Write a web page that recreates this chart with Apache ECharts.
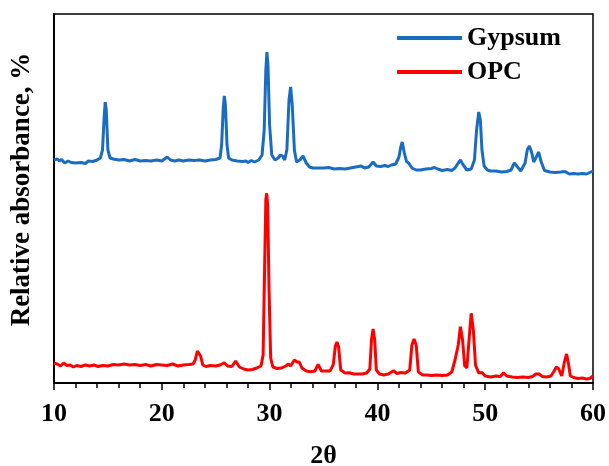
<!DOCTYPE html>
<html>
<head>
<meta charset="utf-8">
<title>XRD patterns: Gypsum and OPC</title>
<script src="https://cdn.jsdelivr.net/npm/echarts@6/dist/echarts.min.js"></script>
<style>
  html, body { margin: 0; padding: 0; background: #ffffff; }
  #chart { width: 609px; height: 466px; }
</style>
</head>
<body>
<div id="chart"></div>
<script>
// Diffraction angle range and tick spacing (degrees 2θ)
const thetaMin = 10;
const thetaMax = 60;
const thetaStep = 10;

// Relative intensity scale (arbitrary units, patterns offset vertically)
const intensityMax = 369;

// Series names
const seriesNames = ['Gypsum', 'OPC'];

// Gypsum pattern: [2θ, relative intensity]
const gypsumPattern = [
  [10.0, 223], [10.3, 224], [10.5, 222], [10.7, 223.5], [11.0, 220], [11.3, 222],
  [11.6, 220.5], [12.0, 220], [12.5, 220.5], [12.9, 219.5], [13.2, 222], [13.6, 221.5],
  [14.0, 223], [14.3, 225], [14.5, 233], [14.65, 265], [14.75, 281], [14.85, 273],
  [15.0, 233], [15.2, 225], [15.5, 224], [16.0, 223], [16.5, 223.5], [17.0, 222],
  [17.5, 223.5], [18.0, 222], [18.5, 222.5], [19.0, 222], [19.5, 223], [20.0, 222],
  [20.5, 226], [20.8, 223], [21.2, 222], [21.6, 223], [22.0, 222], [22.5, 223],
  [23.0, 222.5], [23.5, 223], [24.0, 222], [24.5, 223], [25.0, 223.5], [25.4, 225],
  [25.55, 238], [25.7, 275], [25.8, 287], [25.9, 278], [26.05, 238], [26.2, 225],
  [26.5, 223], [27.0, 222], [27.5, 221.5], [27.8, 222], [28.0, 220.5], [28.3, 222.5],
  [28.6, 221], [29.0, 223], [29.3, 228], [29.5, 253], [29.65, 313], [29.75, 331],
  [29.85, 318], [30.0, 258], [30.2, 228], [30.5, 223], [30.8, 225], [31.0, 228],
  [31.2, 227], [31.4, 223], [31.6, 233], [31.8, 283], [31.95, 296], [32.1, 278],
  [32.3, 233], [32.5, 221], [32.8, 223], [33.1, 227], [33.4, 220], [33.7, 216],
  [34.0, 215], [35.0, 215], [35.5, 215.5], [36.0, 214], [36.5, 214.5], [37.0, 214],
  [37.5, 215], [38.0, 216], [38.5, 217], [38.8, 215], [39.2, 216], [39.6, 221],
  [39.9, 217], [40.3, 216.5], [40.7, 217.5], [41.0, 216.5], [41.3, 218], [41.7, 219],
  [42.0, 226], [42.15, 235], [42.3, 241], [42.5, 230], [42.7, 221.5], [42.9, 220],
  [43.2, 215], [43.6, 213], [44.0, 213], [44.5, 214], [45.0, 214.5], [45.3, 215.5],
  [45.6, 214], [46.0, 212.5], [46.5, 213.5], [46.9, 212.5], [47.2, 215], [47.5, 220],
  [47.7, 223], [47.9, 219], [48.3, 213], [48.7, 214], [49.0, 223], [49.2, 253],
  [49.4, 271], [49.55, 263], [49.7, 233], [49.9, 217], [50.2, 213], [50.5, 212],
  [51.0, 212], [51.5, 211], [52.0, 211.5], [52.4, 213], [52.7, 220], [53.0, 216],
  [53.3, 212], [53.7, 220], [53.9, 233], [54.1, 237], [54.3, 231], [54.5, 221],
  [54.7, 225], [54.95, 231], [55.2, 221], [55.5, 212.5], [56.0, 211], [56.5, 210.5],
  [57.0, 211], [57.4, 211.5], [57.8, 209], [58.2, 209.5], [58.6, 209], [59.0, 209.5],
  [59.4, 209], [59.7, 210.5], [60.0, 212]
];

// OPC pattern: [2θ, relative intensity]
const opcPattern = [
  [10.0, 19.7], [10.3, 19], [10.6, 17], [10.9, 20], [11.2, 17.5], [11.5, 18],
  [11.8, 16], [12.1, 17.5], [12.5, 16.5], [12.9, 18], [13.3, 17], [13.7, 18],
  [14.1, 16.5], [14.5, 17.5], [15.0, 17], [15.5, 18.5], [16.0, 18], [16.5, 19],
  [17.0, 18], [17.5, 18.5], [18.0, 17.5], [18.5, 18.5], [19.0, 17], [19.5, 18.5],
  [20.0, 18], [20.5, 17.5], [21.0, 19], [21.5, 17], [22.0, 18], [22.5, 18.5],
  [22.9, 19], [23.1, 23], [23.3, 32], [23.45, 33.7], [23.6, 27], [23.8, 18],
  [24.1, 16.5], [24.5, 17.5], [25.0, 17], [25.4, 18], [25.8, 20.3], [26.1, 17],
  [26.5, 16.5], [26.85, 22], [27.2, 16], [27.6, 14], [28.0, 13], [28.4, 13.5],
  [28.8, 15], [29.2, 17], [29.4, 28], [29.55, 123], [29.65, 183], [29.73, 189.7],
  [29.82, 178], [29.95, 93], [30.1, 25], [30.3, 16], [30.7, 14.5], [31.1, 15],
  [31.5, 17], [31.75, 19], [31.95, 17], [32.3, 23], [32.55, 21], [32.75, 21],
  [33.0, 15], [33.4, 12], [33.8, 11.3], [34.2, 12], [34.5, 18.7], [34.8, 12],
  [35.2, 12], [35.6, 12], [35.9, 18], [36.1, 37], [36.25, 41], [36.4, 36],
  [36.6, 13], [37.0, 10], [37.4, 10.3], [37.8, 9], [38.2, 9], [38.6, 9],
  [39.0, 10], [39.3, 14], [39.45, 43], [39.6, 54], [39.75, 43], [39.9, 13],
  [40.2, 9], [40.6, 8], [41.0, 9], [41.5, 12.3], [41.8, 9.5], [42.2, 10.5],
  [42.6, 10], [43.0, 13], [43.2, 38], [43.4, 44], [43.6, 38], [43.8, 11],
  [44.2, 8], [44.6, 8], [45.0, 7.5], [45.5, 8], [46.0, 7.5], [46.5, 8],
  [46.9, 11], [47.2, 23], [47.35, 25], [47.5, 38], [47.7, 56.3], [47.9, 43],
  [48.1, 17], [48.3, 15], [48.5, 43], [48.7, 69.7], [48.9, 53], [49.1, 18],
  [49.4, 10], [49.7, 10.5], [50.0, 7], [50.5, 6], [51.0, 7], [51.4, 6.5],
  [51.7, 10.3], [52.0, 7], [52.5, 6], [53.0, 5.5], [53.5, 6], [54.0, 5.5],
  [54.4, 6.5], [54.7, 9], [55.0, 9], [55.3, 6.5], [55.7, 6], [56.1, 7],
  [56.4, 12], [56.6, 16], [56.8, 14.5], [57.1, 7], [57.35, 21], [57.55, 29],
  [57.7, 21], [57.9, 7], [58.2, 5.5], [58.6, 4.5], [59.0, 5], [59.4, 4],
  [59.7, 4.5], [60.0, 7]
];

const serifFont = '"Liberation Serif", "Times New Roman", "DejaVu Serif", serif';
const colors = ['#1a6cc2', '#ff0000'];

const chart = echarts.init(document.getElementById('chart'), null, { renderer: 'canvas' });

chart.setOption({
  animation: false,
  backgroundColor: '#ffffff',
  color: colors,
  grid: {
    left: 54,
    right: 16,
    top: 14,
    bottom: 83,
    show: true,
    borderColor: '#000000',
    borderWidth: 1.5,
    containLabel: false,
    outerBoundsMode: 'none'
  },
  legend: {
    data: seriesNames,
    orient: 'vertical',
    left: 397,
    top: 25,
    padding: 0,
    icon: 'rect',
    itemWidth: 65,
    itemHeight: 4,
    itemGap: 8,
    textStyle: {
      fontFamily: serifFont,
      fontWeight: 'bold',
      fontSize: 26,
      lineHeight: 26,
      color: '#000000'
    }
  },
  xAxis: {
    type: 'value',
    min: thetaMin,
    max: thetaMax,
    interval: thetaStep,
    name: '2θ',
    nameLocation: 'middle',
    nameGap: 60,
    nameTextStyle: {
      fontFamily: serifFont,
      fontWeight: 'bold',
      fontSize: 26,
      color: '#000000'
    },
    axisLine: { show: true, onZero: false, lineStyle: { color: '#000000', width: 2 } },
    axisTick: { show: true, inside: false, length: 7, lineStyle: { color: '#000000', width: 1.5 } },
    minorTick: { show: true, splitNumber: 5, length: 5, lineStyle: { color: '#000000', width: 1.5 } },
    splitLine: { show: false },
    axisLabel: {
      margin: 18,
      fontFamily: serifFont,
      fontWeight: 'bold',
      fontSize: 26,
      color: '#000000'
    }
  },
  yAxis: {
    type: 'value',
    min: 0,
    max: intensityMax,
    name: 'Relative absorbance, %',
    nameLocation: 'middle',
    nameGap: 18,
    nameTextStyle: {
      fontFamily: serifFont,
      fontWeight: 'bold',
      fontSize: 27,
      color: '#000000',
      padding: [0, 0, 0, 18]
    },
    axisLine: { show: true, lineStyle: { color: '#000000', width: 2 } },
    axisTick: { show: false },
    axisLabel: { show: false },
    splitLine: { show: false }
  },
  series: [
    {
      name: seriesNames[0],
      type: 'line',
      data: gypsumPattern,
      showSymbol: false,
      symbol: 'none',
      smooth: false,
      lineStyle: { width: 3, color: colors[0] }
    },
    {
      name: seriesNames[1],
      type: 'line',
      data: opcPattern,
      showSymbol: false,
      symbol: 'none',
      smooth: false,
      lineStyle: { width: 3, color: colors[1] }
    }
  ]
});
</script>
</body>
</html>
